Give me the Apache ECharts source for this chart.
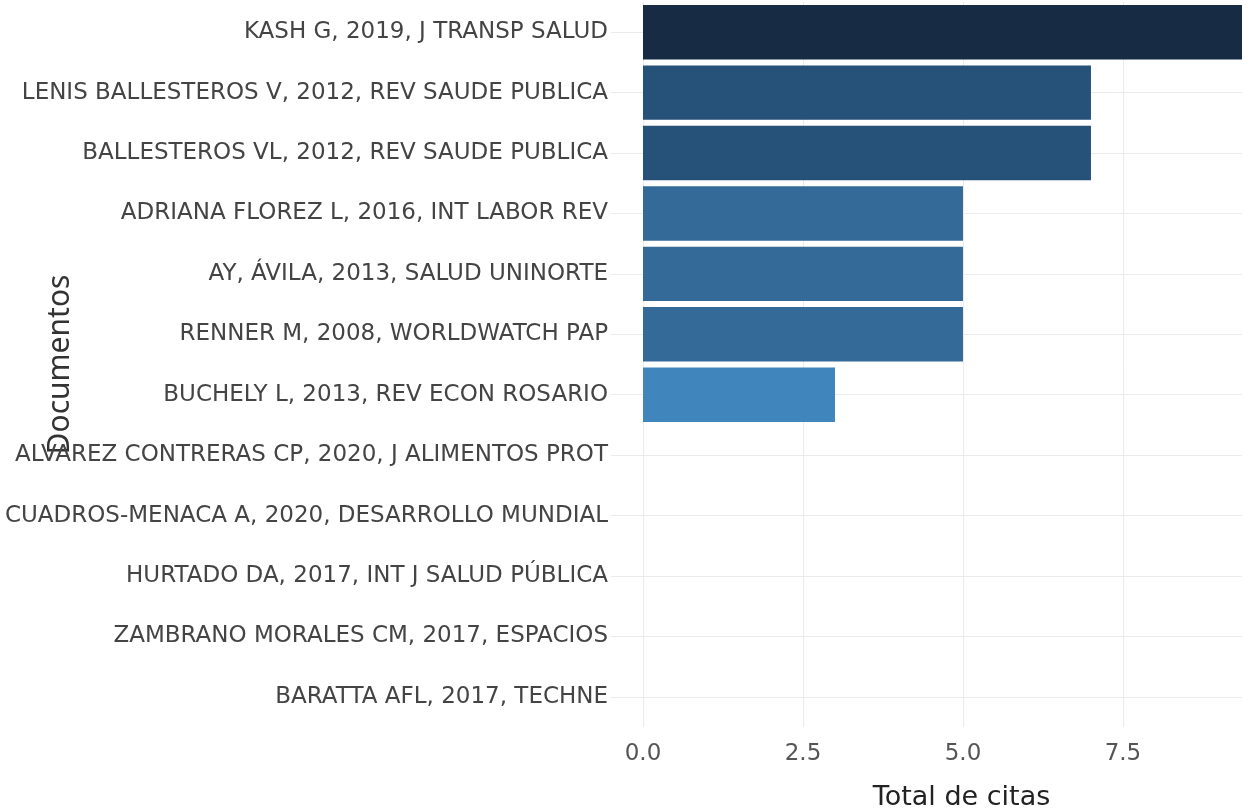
<!DOCTYPE html>
<html>
<head>
<meta charset="utf-8">
<script src="https://cdn.jsdelivr.net/npm/echarts@6/dist/echarts.min.js"></script>
<style>
html, body { margin: 0; padding: 0; background: #fff; }
#main { width: 1242px; height: 812px; }
</style>
</head>
<body>
<div id="main"></div>
<script>
// documentos (de arriba a abajo)
var docs = [
	'KASH G, 2019, J TRANSP SALUD',
	'LENIS BALLESTEROS V, 2012, REV SAUDE PUBLICA',
	'BALLESTEROS VL, 2012, REV SAUDE PUBLICA',
	'ADRIANA FLOREZ L, 2016, INT LABOR REV',
	'AY, ÁVILA, 2013, SALUD UNINORTE',
	'RENNER M, 2008, WORLDWATCH PAP',
	'BUCHELY L, 2013, REV ECON ROSARIO',
	'ALVAREZ CONTRERAS CP, 2020, J ALIMENTOS PROT',
	'CUADROS-MENACA A, 2020, DESARROLLO MUNDIAL',
	'HURTADO DA, 2017, INT J SALUD PÚBLICA',
	'ZAMBRANO MORALES CM, 2017, ESPACIOS',
	'BARATTA AFL, 2017, TECHNE'
];
var citas = [10, 7, 7, 5, 5, 5, 3, 0, 0, 0, 0, 0];
var xTicks = [0, 2.5, 5, 7.5];

var myChart = echarts.init(document.getElementById('main'));

var option = {
	backgroundColor: '#fff',
	animation: false,
	grid: {
		left: 611,
		right: 0,
		top: 2,
		bottom: 85,
		outerBoundsMode: 'none' // que no mueva el panel por las etiquetas largas
	},
	visualMap: {
		show: false,
		type: 'piecewise',
		dimension: 0,
		pieces: [
			{ value: 0, color: '#56B1F7' },
			{ value: 3, color: '#4185bd' },
			{ value: 5, color: '#336a98' },
			{ value: 7, color: '#265179' },
			{ value: 10, color: '#172b44' }
		]
	},
	xAxis: {
		type: 'value',
		min: -0.5,
		max: 9.36, // el panel se corta en el borde derecho
		name: 'Total de citas',
		nameLocation: 'middle',
		nameGap: 57,
		nameMoveOverlap: false,
		nameTextStyle: {
			fontFamily: 'DejaVu Sans',
			fontSize: 27,
			color: '#222',
			padding: [0, 0, 0, 70]
		},
		axisLine: { show: false },
		axisTick: { show: false, customValues: xTicks },
		axisLabel: {
			customValues: xTicks,
			margin: 16,
			fontFamily: 'DejaVu Sans',
			fontSize: 23,
			color: '#555',
			formatter: function (v) { return v.toFixed(1); }
		},
		splitLine: { lineStyle: { color: '#ebebeb', width: 1 } }
	},
	yAxis: {
		type: 'category',
		inverse: true,
		data: docs,
		name: 'Documentos',
		nameLocation: 'middle',
		nameGap: 536,
		nameMoveOverlap: false,
		nameTextStyle: {
			fontFamily: 'Noto Sans',
			fontSize: 30,
			color: '#333'
		},
		axisLine: { show: false },
		axisTick: { show: false, alignWithLabel: true },
		axisLabel: {
			margin: 3,
			fontFamily: 'DejaVu Sans',
			fontSize: 23,
			color: '#444'
		},
		splitLine: { show: true, alignWithLabel: true, lineStyle: { color: '#ebebeb', width: 1 } }
	},
	series: [{
		type: 'bar',
		data: citas,
		barCategoryGap: '10%',
		clip: true
	}]
};

myChart.setOption(option);
</script>
</body>
</html>
